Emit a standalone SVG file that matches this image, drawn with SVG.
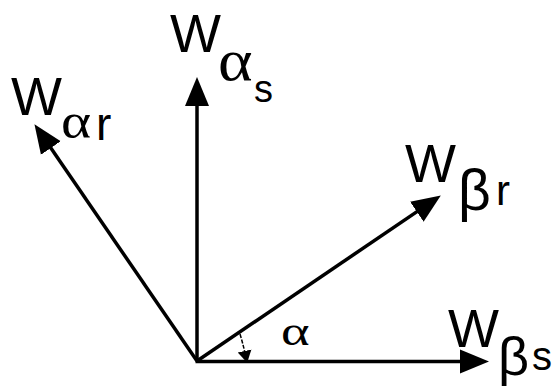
<svg xmlns="http://www.w3.org/2000/svg" width="553" height="387" viewBox="0 0 553 387">
<style>
.vec{stroke:#000;stroke-width:3.5;fill:none}
.thin{stroke:#000;stroke-width:1.5;fill:none;stroke-dasharray:4 1.5}
.w{font-family:"Liberation Sans",Arial,sans-serif;font-size:54px;fill:#000}
.g{font-family:"Liberation Serif","Times New Roman",serif;fill:#000}
.gb{font-family:"Liberation Sans",Arial,sans-serif;fill:#000}
.sub{font-family:"Liberation Sans",Arial,sans-serif;fill:#000}
</style>
<defs>
<marker id="ah" markerUnits="userSpaceOnUse" markerWidth="30" markerHeight="26" viewBox="0 -13 30 26" refX="10" refY="0" orient="auto">
<path d="M0,-12 L29,0 L0,12 Z" fill="#000"/>
</marker>
<marker id="ahs" markerUnits="userSpaceOnUse" markerWidth="14" markerHeight="16" viewBox="0 -8 14 16" refX="2" refY="0" orient="auto">
<path d="M0,-7 L12,0 L0,7 Z" fill="#000"/>
</marker>
</defs>
<g id="connectors">
<line class="vec" x1="197" y1="361" x2="197" y2="96" marker-end="url(#ah)"/>
<line class="vec" x1="195.5" y1="361.5" x2="470" y2="361.5" marker-end="url(#ah)"/>
<line class="vec" x1="197" y1="361" x2="45.2" y2="139.8" marker-end="url(#ah)"/>
<line class="vec" x1="197" y1="361" x2="425.1" y2="206.1" marker-end="url(#ah)"/>
<path class="thin" d="M240,334 Q243,344 245,353" marker-end="url(#ahs)"/>
</g>
<g id="w-alpha-s">
<text class="w" x="170" y="52">W</text>
<text class="g" transform="translate(218,80) scale(1.1,1)" font-size="60">α</text>
<text class="sub" x="254" y="102" font-size="38">s</text>
</g>
<g id="w-alpha-r">
<text class="w" x="11" y="115">W</text>
<text class="g" transform="translate(61,138) scale(1.15,1)" font-size="50">α</text>
<text class="sub" x="96" y="140" font-size="46">r</text>
</g>
<g id="w-beta-r">
<text class="w" x="405" y="182">W</text>
<text class="gb" x="458" y="210" font-size="57">β</text>
<text class="sub" x="496" y="205" font-size="42">r</text>
</g>
<g id="w-beta-s">
<text class="w" x="448" y="347">W</text>
<text class="gb" x="498" y="375" font-size="54">β</text>
<text class="sub" x="532" y="370" font-size="40">s</text>
</g>
<g id="angle-alpha">
<text class="g" transform="translate(281,345) scale(1.3,1)" font-size="42">α</text>
</g>
</svg>
